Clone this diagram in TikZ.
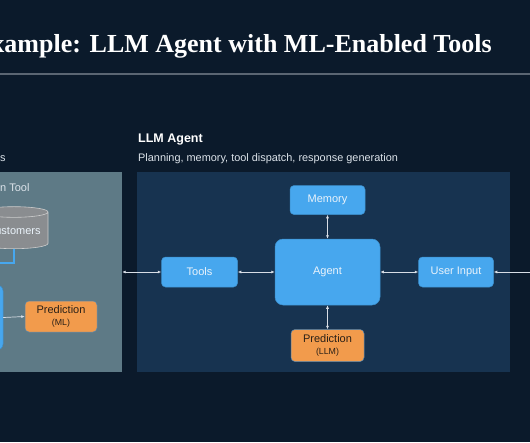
\documentclass[tikz,border=0pt]{standalone}
\usepackage{fontspec}
\setmainfont{Liberation Sans}
\newfontfamily\titlefont{Liberation Serif}
\usepackage{xcolor}
\usetikzlibrary{arrows.meta,positioning,shapes.geometric}
\definecolor{canvas}{HTML}{0B1A2B}
\definecolor{rulegray}{HTML}{5B6673}
\definecolor{toolfill}{HTML}{5E7A86}
\definecolor{agentfill}{HTML}{173350}
\definecolor{agentblue}{HTML}{47A7EE}
\definecolor{predorange}{HTML}{F29B4C}
\definecolor{predline}{HTML}{5A89B0}
\definecolor{boxtext}{HTML}{EAF3FB}
\definecolor{predtext}{HTML}{2B2118}
\definecolor{linkgray}{HTML}{D8DEE6}
\definecolor{subtext}{HTML}{DCE3EA}
\definecolor{dbgray}{HTML}{8A8D90}
\newcommand{\predsub}{\fontsize{8.8}{10}\selectfont}

\begin{document}
\begin{tikzpicture}[x=1pt,y=-1pt,
    box/.style={draw=agentblue!85!black,line width=0.5pt,fill=agentblue,
                rounded corners=4pt,text=boxtext,inner sep=0pt,
                font=\fontsize{11}{12.5}\selectfont,align=center},
    pred/.style={box,draw=predline,fill=predorange,text=predtext},
    panel/.style={inner sep=0pt,minimum height=200pt},
    link/.style={draw=linkgray,line width=0.7pt},
    tips/.style={{Latex[length=3.5pt,width=3pt]}-{Latex[length=3.5pt,width=3pt]}}
  ]
    \useasboundingbox (0,0) rectangle (530,442);
    \fill[canvas] (0,0) rectangle (530,442);
    \clip (0,0) rectangle (530,442);

    % title and rule
    \node[anchor=base east,text=white,inner sep=0pt,
          font=\titlefont\bfseries\fontsize{26}{29}\selectfont] (title) at (492,52)
         {Example: LLM Agent with ML-Enabled Tools};
    \draw[rulegray,line width=1.2pt] (0,74) -- (530,74);

    % panels
    \node[panel,fill=toolfill,minimum width=250pt] (mlpanel) at (-3,272) {};
    \node[panel,fill=agentfill,minimum width=373pt] (llmpanel) at (323.5,272) {};

    \node[anchor=base west,inner sep=0pt,text=subtext,font=\fontsize{10.9}{12}\selectfont]
         (mlsub) at (0,161) {s};
    \node[anchor=base west,inner sep=0pt,text=white,font=\bfseries\fontsize{12.5}{14}\selectfont]
         (llmtitle) at (138,142) {LLM Agent};
    \node[anchor=base west,inner sep=0pt,text=subtext,font=\fontsize{10.9}{12}\selectfont]
         (llmsub) at (138,161) {Planning, memory, tool dispatch, response generation};

    % ML tool side
    \node[anchor=west,inner sep=0pt,text=subtext,font=\fontsize{11}{12}\selectfont]
         (mltool) at (0,188) {n Tool};
    \node[cylinder,shape border rotate=90,aspect=0.2,draw=black!20,line width=0.6pt,
          fill=dbgray,text=boxtext,inner sep=0pt,minimum width=68pt,minimum height=42pt,
          font=\fontsize{11}{12}\selectfont] (cust) at (14,230.5) {Customers};
    \coordinate (dbin) at (-40,263);
    \draw[agentblue,line width=1.2pt] (cust.south) |- (dbin);
    \node[box,rounded corners=6pt,minimum width=66pt,minimum height=65pt] (mlmodel) at (-30,317.5) {};
    \node[pred,minimum width=72pt,minimum height=31pt] (predml) at (61,316.5)
         {Prediction\\[-1pt]{\predsub (ML)}};

    % LLM agent side
    \node[box,rounded corners=8pt,minimum width=105pt,minimum height=66pt] (agent) at (327.5,272) {Agent};
    \node[box,minimum width=75pt,minimum height=29pt,above=24pt of agent] (memory) {Memory};
    \node[box,minimum width=76pt,minimum height=30pt,left=37pt of agent] (tools) {Tools};
    \node[box,minimum width=75pt,minimum height=30pt,right=38pt of agent] (userin) {User Input};
    \node[pred,minimum width=73pt,minimum height=32pt,below=24pt of agent] (predllm)
         {Prediction\\[-1pt]{\predsub (LLM)}};
    \coordinate (ext) at (545,272);

    \draw[link,tips] (mlpanel.east) -- (tools.west);
    \draw[link,tips] (tools) -- (agent);
    \draw[link,tips] (agent) -- (userin);
    \draw[link,tips] (memory) -- (agent);
    \draw[link,tips] (agent) -- (predllm);
    \draw[link,-{Latex[length=3.5pt,width=3pt]}] (ext) -- (userin.east);
    \draw[link,-{Latex[length=3.5pt,width=3pt]}] (mlmodel.east) -- (predml.west);
  \end{tikzpicture}
\end{document}
